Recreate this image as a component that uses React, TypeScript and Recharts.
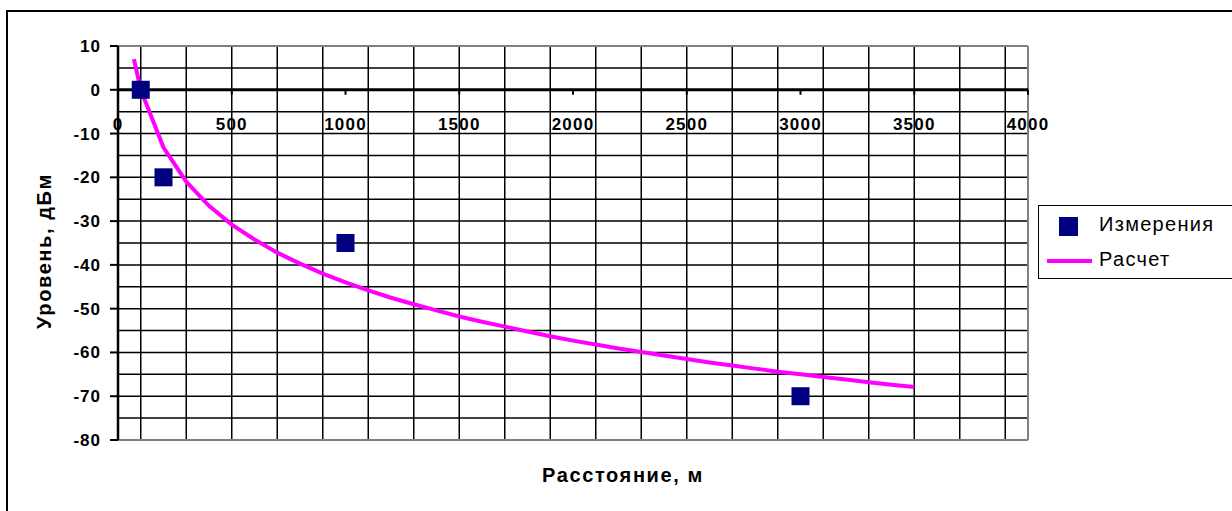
import {
  CartesianGrid,
  ComposedChart,
  Line,
  ReferenceDot,
  ReferenceLine,
  Scatter,
  XAxis,
  YAxis,
} from "recharts";

const FONT = '"Liberation Sans", Arial, sans-serif';

// Измерения
const measDist = [100, 200, 1000, 3000];
const measLevel = [0, -20, -35, -70];

// Расчет
const calcDist = [
  70, 100, 200, 300, 400, 500, 600, 700, 800, 900, 1000, 1100, 1200, 1300,
  1400, 1500, 1600, 1700, 1800, 1900, 2000, 2100, 2200, 2300, 2400, 2500,
  2600, 2700, 2800, 2900, 3000, 3100, 3200, 3300, 3400, 3500,
];
const calcLevel = [
  7, 0, -13.2, -21, -26.5, -30.8, -34.2, -37.2, -39.7, -42, -44, -45.8, -47.5,
  -49, -50.4, -51.8, -53, -54.1, -55.2, -56.3, -57.3, -58.2, -59.1, -59.9,
  -60.7, -61.5, -62.3, -63, -63.7, -64.4, -65, -65.6, -66.2, -66.8, -67.4,
  -67.9,
];

const distTicks = [0, 500, 1000, 1500, 2000, 2500, 3000, 3500, 4000];
const levelTicks = [-80, -70, -60, -50, -40, -30, -20, -10, 0, 10];
const gridDist = [
  100, 200, 300, 400, 500, 600, 700, 800, 900, 1000, 1100, 1200, 1300, 1400,
  1500, 1600, 1700, 1800, 1900, 2000, 2100, 2200, 2300, 2400, 2500, 2600,
  2700, 2800, 2900, 3000, 3100, 3200, 3300, 3400, 3500, 3600, 3700, 3800,
  3900,
];
const gridLevel = [
  -75, -70, -65, -60, -55, -50, -45, -40, -35, -30, -25, -20, -15, -10, -5, 5,
];

const measData = measDist.map((x, i) => ({ x, y: measLevel[i] }));
const calcData = calcDist.map((x, i) => ({ x, y: calcLevel[i] }));

const Square = (props: any) => {
  const { cx, cy } = props;
  return <rect x={cx - 9} y={cy - 9} width={18} height={18} fill="#000080" />;
};

const LevelTick = ({ x, y, payload }: any) => (
  <text
    x={x}
    y={y}
    dy={6}
    textAnchor="end"
    fill="#000"
    fontFamily={FONT}
    fontWeight="bold"
    fontSize={17}
    letterSpacing={1}
  >
    {payload.value}
  </text>
);

const distMark = (label: number) => (props: any) => {
  const { cx, cy } = props;
  return (
    <g>
      <line x1={cx} y1={cy} x2={cx} y2={cy + 5} stroke="#000" strokeWidth={2} />
      <text
        x={cx}
        y={cy + 40}
        textAnchor="middle"
        fill="#000"
        fontFamily={FONT}
        fontWeight="bold"
        fontSize={17}
        letterSpacing={1.2}
      >
        {label}
      </text>
    </g>
  );
};

const legendText = {
  fontFamily: FONT,
  fontSize: 20,
  letterSpacing: 1.3,
  color: "#000",
};

export default function App() {
  return (
    <div
      style={{
        position: "fixed",
        left: 0,
        top: 0,
        width: 1232,
        height: 511,
        overflow: "hidden",
        background: "#fff",
      }}
    >
      <div
        style={{
          position: "absolute",
          left: 6,
          top: 10,
          width: 1300,
          height: 600,
          border: "2px solid #000",
        }}
      />
      <div style={{ position: "absolute", left: 0, top: 0 }}>
        <ComposedChart
          width={1232}
          height={511}
          margin={{ top: 46, right: 204, bottom: 71, left: 8 }}
        >
          <CartesianGrid
            stroke="#000"
            strokeWidth={1.5}
            horizontalValues={gridLevel}
            verticalValues={gridDist}
          />
          <XAxis
            type="number"
            dataKey="x"
            domain={[0, 4000]}
            ticks={distTicks}
            hide
          />
          <YAxis
            type="number"
            dataKey="y"
            domain={[-80, 10]}
            ticks={levelTicks}
            interval={0}
            width={110}
            tickSize={8}
            tickMargin={9}
            axisLine={{ stroke: "#000", strokeWidth: 2.5 }}
            tickLine={{ stroke: "#000", strokeWidth: 2 }}
            tick={<LevelTick />}
          />
          <ReferenceLine y={10} stroke="#808080" strokeWidth={2} />
          <ReferenceLine y={-80} stroke="#808080" strokeWidth={2} />
          <ReferenceLine x={4000} stroke="#808080" strokeWidth={2} />
          <ReferenceLine y={0} stroke="#000" strokeWidth={3} />
          {distTicks.map((t) => (
            <ReferenceDot
              key={t}
              x={t}
              y={0}
              r={0}
              ifOverflow="visible"
              shape={distMark(t)}
            />
          ))}
          <Line
            data={calcData}
            dataKey="y"
            type="linear"
            stroke="#FF00FF"
            strokeWidth={4}
            dot={false}
            activeDot={false}
            isAnimationActive={false}
            name="Расчет"
          />
          <Scatter
            data={measData}
            dataKey="y"
            shape={<Square />}
            isAnimationActive={false}
            name="Измерения"
          />
          <text
            x={623}
            y={482}
            textAnchor="middle"
            fill="#000"
            fontFamily={FONT}
            fontWeight="bold"
            fontSize={20}
            letterSpacing={1.6}
          >
            Расстояние, м
          </text>
          <text
            x={44}
            y={251}
            transform="rotate(-90 44 251)"
            textAnchor="middle"
            dominantBaseline="central"
            fill="#000"
            fontFamily={FONT}
            fontWeight="bold"
            fontSize={20}
            letterSpacing={1.6}
          >
            Уровень, дБм
          </text>
        </ComposedChart>
      </div>
      <div
        style={{
          position: "absolute",
          left: 1038,
          top: 205,
          width: 220,
          height: 74,
          border: "1px solid #000",
          background: "#fff",
          boxSizing: "border-box",
        }}
      >
        <div
          style={{
            position: "absolute",
            left: 20,
            top: 11,
            width: 19,
            height: 19,
            background: "#000080",
          }}
        />
        <div style={{ ...legendText, position: "absolute", left: 60, top: 7 }}>
          Измерения
        </div>
        <div
          style={{
            position: "absolute",
            left: 8,
            top: 53,
            width: 45,
            height: 4,
            background: "#FF00FF",
          }}
        />
        <div style={{ ...legendText, position: "absolute", left: 60, top: 42 }}>
          Расчет
        </div>
      </div>
    </div>
  );
}
